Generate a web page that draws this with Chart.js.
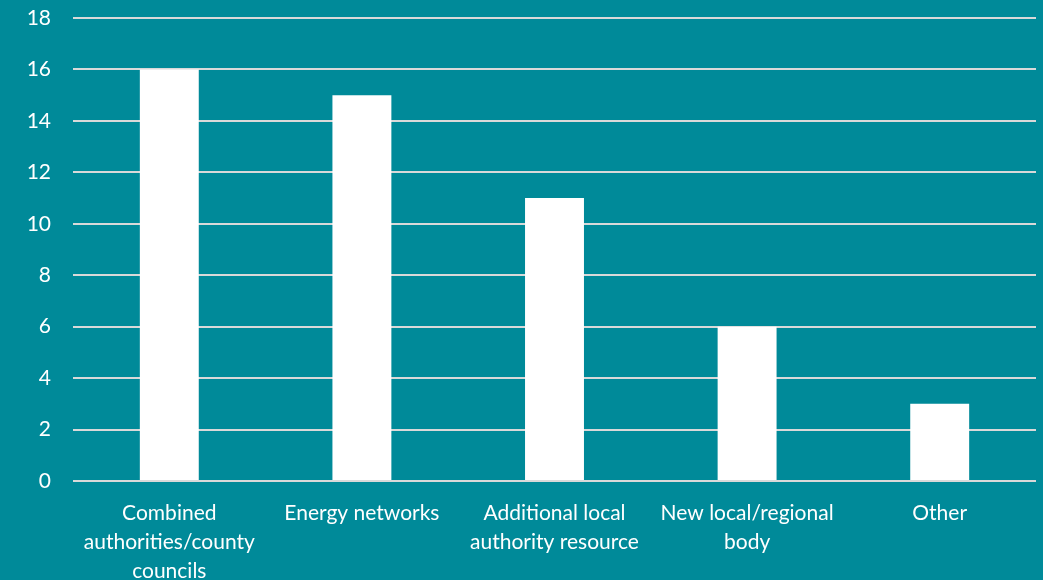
<!DOCTYPE html>
<html>
<head>
<meta charset="utf-8">
<script src="https://cdn.jsdelivr.net/npm/chart.js@4/dist/chart.umd.min.js"></script>
<style>
  html, body { margin: 0; padding: 0; background: #008A99; }
  #wrap { width: 1043px; height: 580px; position: relative; }
</style>
</head>
<body>
<div id="wrap"><canvas id="chart"></canvas></div>
<script>
// data
var categories = [
    ['Combined', 'authorities/county', 'councils'],
    'Energy networks',
    ['Additional local', 'authority resource'],
    ['New local/regional', 'body'],
    'Other'
];
var counts = [16, 15, 11, 6, 3];
var yTicks = [0, 2, 4, 6, 8, 10, 12, 14, 16, 18];

var ctx = document.getElementById('chart').getContext('2d');
var chart = new Chart(ctx, {
    type: 'bar',
    data: {
        labels: categories,
        datasets: [{
            data: counts,
            backgroundColor: '#FFFFFF',
            borderWidth: 0,
            barPercentage: 0.306,
            categoryPercentage: 1
        }]
    },
    options: {
        responsive: true,
        maintainAspectRatio: false,
        animation: false,
        layout: { padding: { top: 0, right: 7, bottom: 0, left: 0 } },
        plugins: {
            legend: { display: false },
            tooltip: { enabled: false }
        },
        scales: {
            x: {
                grid: { display: false },
                border: { display: false },
                ticks: {
                    color: '#FFFFFF',
                    font: { family: 'Lato, "Open Sans", sans-serif', size: 21, lineHeight: 1.38 },
                    maxRotation: 0,
                    autoSkip: false,
                    padding: 10
                },
                afterFit: function (scale) { scale.height = 99; }
            },
            y: {
                min: 0,
                max: 18,
                afterBuildTicks: function (scale) {
                    scale.ticks = yTicks.map(function (v) { return { value: v }; });
                },
                grid: { color: '#D9D9D9', lineWidth: 2, drawTicks: false },
                border: { display: false },
                ticks: {
                    color: '#FFFFFF',
                    font: { family: 'Lato, "Open Sans", sans-serif', size: 21 },
                    padding: 22
                },
                afterFit: function (scale) {
                    scale.width = 73;
                    scale.paddingTop = 18;
                    scale.paddingBottom = 0;
                }
            }
        }
    }
});
</script>
</body>
</html>
